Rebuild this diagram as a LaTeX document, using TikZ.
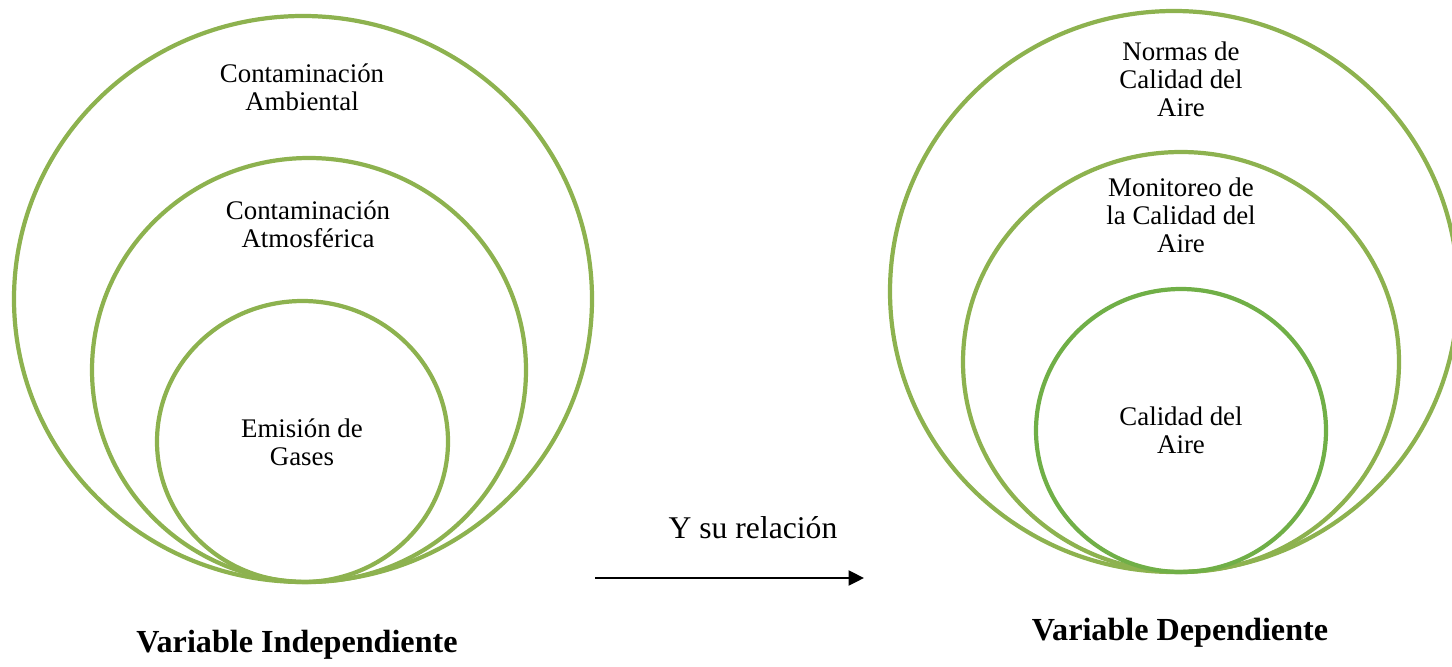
\documentclass[tikz,border=0pt]{standalone}
\usepackage{fontspec}
\setmainfont{Liberation Serif}
\usetikzlibrary{arrows.meta,positioning}

\definecolor{ringgreen}{RGB}{141,178,79}
\definecolor{ringbright}{RGB}{112,175,71}

\begin{document}
\begin{tikzpicture}[x=0.02cm,y=-0.02cm,line width=2.4pt,
    ring/.style={draw=ringgreen},
    ringtext/.style={align=center,inner sep=0pt,font=\fontsize{15.3}{16}\selectfont},
    vartitle/.style={inner sep=0pt,font=\fontsize{18.3}{20}\selectfont\bfseries}]

  \useasboundingbox (0,0) rectangle (1452,666);

  % Independent variable: three nested rings
  \draw[ring] (303,299) ellipse [x radius=289, y radius=283];
  \draw[ring] (309,370) ellipse [x radius=217, y radius=212];
  \draw[ring] (302.5,441.5) ellipse [x radius=145.5, y radius=140.5];

  \node[ringtext] (ambiental) at (302,87) {Contaminación\\Ambiental};
  \node[ringtext] (atmosferica) at (308,224) {Contaminación\\Atmosférica};
  \node[ringtext] (emision) at (302,442) {Emisión de\\Gases};

  % Dependent variable: three nested rings
  \draw[ring] (1174,291.5) ellipse [x radius=284, y radius=280.5];
  \draw[ring] (1181,362) ellipse [x radius=218, y radius=210];
  \draw[ring,draw=ringbright] (1181,430.5) ellipse [x radius=145, y radius=141.5];

  \node[ringtext] (normas) at (1181,79) {Normas de\\Calidad del\\Aire};
  \node[ringtext] (monitoreo) at (1181,215) {Monitoreo de\\la Calidad del\\Aire};
  \node[ringtext] (calidad) at (1181,430) {Calidad del\\Aire};

  % The relation arrow
  \coordinate (from) at (595,578);
  \coordinate (to) at (864,578);
  \draw[line width=1.3pt,-{Triangle[length=0.31cm,width=0.3cm]}] (from) -- (to);
  \node[inner sep=0pt,font=\fontsize{18}{20}\selectfont] (relacion) at (753,528) {Y su relación};

  % Titles under the rings
  \node[vartitle] (indep) at (297,645) {Variable Independiente};
  \node[vartitle] (dep) at (1180,633) {Variable Dependiente};

\end{tikzpicture}
\end{document}
